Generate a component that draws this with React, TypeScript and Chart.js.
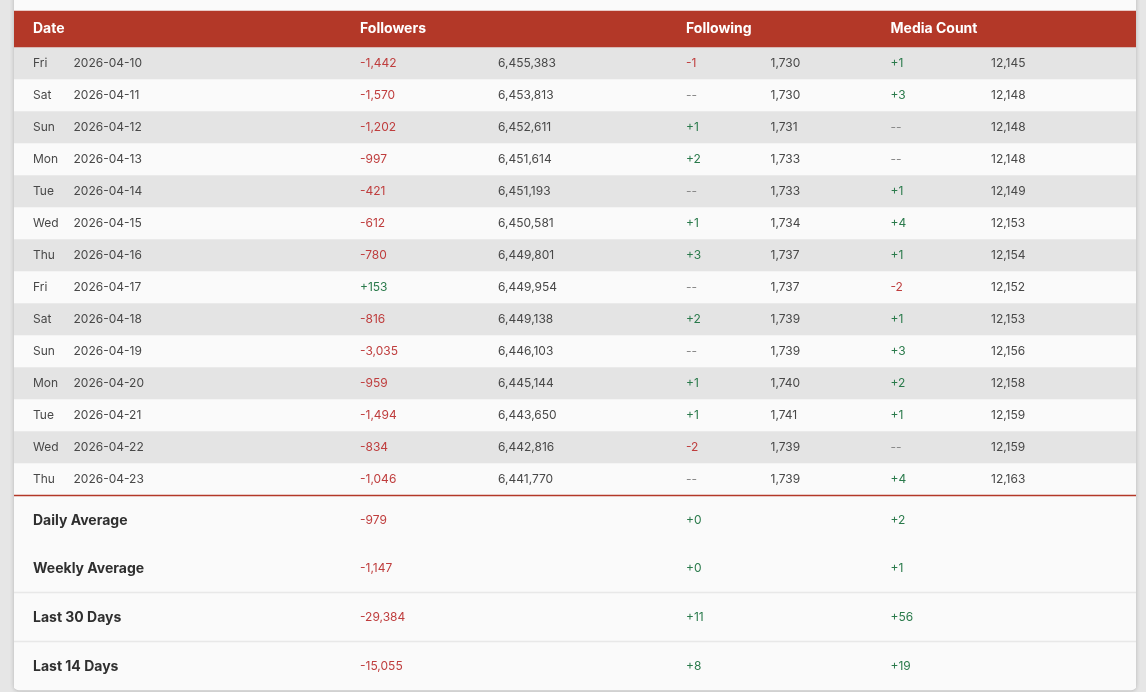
import { useEffect, useRef } from 'react';
import { Chart, registerables } from 'chart.js';

Chart.register(...registerables);

const weekdays = ['Fri', 'Sat', 'Sun', 'Mon', 'Tue', 'Wed', 'Thu', 'Fri', 'Sat', 'Sun', 'Mon', 'Tue', 'Wed', 'Thu'];
const dates = [
  '2026-04-10', '2026-04-11', '2026-04-12', '2026-04-13', '2026-04-14', '2026-04-15', '2026-04-16',
  '2026-04-17', '2026-04-18', '2026-04-19', '2026-04-20', '2026-04-21', '2026-04-22', '2026-04-23',
];
const followersChange = [-1442, -1570, -1202, -997, -421, -612, -780, 153, -816, -3035, -959, -1494, -834, -1046];
const followersTotal = [6455383, 6453813, 6452611, 6451614, 6451193, 6450581, 6449801, 6449954, 6449138, 6446103, 6445144, 6443650, 6442816, 6441770];
const followingChange = [-1, 0, 1, 2, 0, 1, 3, 0, 2, 0, 1, 1, -2, 0];
const followingTotal = [1730, 1730, 1731, 1733, 1733, 1734, 1737, 1737, 1739, 1739, 1740, 1741, 1739, 1739];
const mediaChange = [1, 3, 0, 0, 1, 4, 1, -2, 1, 3, 2, 1, 0, 4];
const mediaTotal = [12145, 12148, 12148, 12148, 12149, 12153, 12154, 12152, 12153, 12156, 12158, 12159, 12159, 12163];

const summaryLabels = ['Daily Average', 'Weekly Average', 'Last 30 Days', 'Last 14 Days'];
const summaryFollowers = [-979, -1147, -29384, -15055];
const summaryFollowing = [0, 0, 11, 8];
const summaryMedia = [2, 1, 56, 19];

const headers = ['Date', 'Followers', 'Following', 'Media Count'];

// layout, in page pixels (both value scales run 1:1 with the canvas)
const WIDTH = 1146;
const HEIGHT = 692;
const PANEL_LEFT = 14;
const PANEL_RIGHT = 1136;
const PANEL_BOTTOM = 690;
const HEADER_TOP = 11;
const HEADER_BOTTOM = 47;
const ROW_H = 32;
const RULE_Y = 495;
const SUMMARY_CENTERS = [521, 569, 618, 667];
const SUMMARY_RULES = [592, 641];
const HEADER_X = [33, 360, 686, 890.5];
const DAY_X = 33;
const DATE_X = 73.5;
const DELTA_X = [360, 686, 890.5];
const TOTAL_X = [498, 770.5, 991];

const FONT = 'Inter, "Noto Sans", sans-serif';
const RED = '#bf3d3d';
const GREEN = '#2a7a4b';
const GREY = '#8a8a8a';
const INK = '#484848';
const PANEL = '#fafafa';

const fmt = (v: number) => Math.abs(v).toLocaleString('en-US');
const signed = (v: number) => (v < 0 ? `-${fmt(v)}` : `+${fmt(v)}`);
const deltaColor = (v: number) => (v < 0 ? RED : v > 0 ? GREEN : GREY);
const rowCenter = (i: number) => HEADER_BOTTOM + ROW_H * i + 16;

function band(top: number, bottom: number, color: string, radius = 0) {
  return {
    data: [[top, bottom]],
    backgroundColor: color,
    borderRadius: radius ? { topLeft: 0, topRight: 0, bottomLeft: radius, bottomRight: radius } : 0,
    borderSkipped: false,
    grouped: false,
    barPercentage: 1,
    categoryPercentage: 1,
    xAxisID: 'x',
    yAxisID: 'y',
  };
}

const tableText = {
  id: 'tableText',
  afterDatasetsDraw(chart: Chart) {
    const { ctx, scales } = chart;
    const px = (v: number) => scales.columns.getPixelForValue(v);
    const py = (v: number) => scales.y.getPixelForValue(v);
    const put = (text: string, x: number, y: number, color: string, font: string) => {
      ctx.fillStyle = color;
      ctx.font = font;
      ctx.fillText(text, px(x), py(y));
    };
    ctx.save();
    ctx.textBaseline = 'middle';
    ctx.textAlign = 'left';

    const bodyFont = `400 12px ${FONT}`;
    const headFont = `700 14px ${FONT}`;
    const sumFont = `700 14px ${FONT}`;

    headers.forEach((h, i) => put(h, HEADER_X[i], 29, '#ffffff', headFont));

    const changes = [followersChange, followingChange, mediaChange];
    const totals = [followersTotal, followingTotal, mediaTotal];
    dates.forEach((d, r) => {
      const y = rowCenter(r);
      put(weekdays[r], DAY_X, y, INK, bodyFont);
      put(d, DATE_X, y, INK, bodyFont);
      changes.forEach((c, k) => {
        put(c[r] === 0 ? '--' : signed(c[r]), DELTA_X[k], y, deltaColor(c[r]), bodyFont);
        put(fmt(totals[k][r]), TOTAL_X[k], y, INK, bodyFont);
      });
    });

    const sums = [summaryFollowers, summaryFollowing, summaryMedia];
    summaryLabels.forEach((label, r) => {
      const y = SUMMARY_CENTERS[r];
      put(label, DAY_X, y, '#2f2f2f', sumFont);
      sums.forEach((s, k) => put(signed(s[r]), DELTA_X[k], y - 1, s[r] < 0 ? RED : GREEN, bodyFont));
    });
    ctx.restore();
  },
};

export default function App() {
  const canvasRef = useRef<HTMLCanvasElement>(null);

  useEffect(() => {
    if (!canvasRef.current) return;

    const stripes = dates.map((_, i) =>
      band(HEADER_BOTTOM + ROW_H * i, HEADER_BOTTOM + ROW_H * (i + 1), i % 2 === 0 ? '#e4e4e4' : PANEL),
    );

    // listed top layer first: Chart.js paints the first dataset last
    const datasets = [
      band(RULE_Y, RULE_Y + 1, '#b33828'),
      ...SUMMARY_RULES.map((y) => band(y, y + 1, '#e8e8e8')),
      band(HEADER_TOP, HEADER_BOTTOM, '#b33828'),
      ...stripes,
      band(0, PANEL_BOTTOM, PANEL, 5),
    ];

    const chart = new Chart(canvasRef.current, {
      type: 'bar',
      data: { labels: ['table'], datasets: datasets as any },
      options: {
        animation: false,
        responsive: false,
        events: [],
        layout: { padding: { left: PANEL_LEFT, right: WIDTH - PANEL_RIGHT, top: 0, bottom: 0 } },
        plugins: { legend: { display: false }, tooltip: { enabled: false }, title: { display: false } },
        scales: {
          x: { type: 'category', display: false, offset: true },
          columns: { type: 'linear', axis: 'x', position: 'bottom', offset: false, display: false, min: PANEL_LEFT, max: PANEL_RIGHT },
          y: { type: 'linear', display: false, min: 0, max: HEIGHT, reverse: true },
        },
      } as any,
      plugins: [tableText],
    });

    return () => chart.destroy();
  }, []);

  return (
    <div style={{ position: 'fixed', inset: 0, background: '#e6e6e6', overflow: 'hidden' }}>
      <div
        style={{
          position: 'absolute',
          left: PANEL_LEFT,
          top: -10,
          width: PANEL_RIGHT - PANEL_LEFT,
          height: PANEL_BOTTOM + 10,
          borderRadius: 5,
          boxShadow: '0 1px 4px rgba(0,0,0,0.22)',
        }}
      />
      <canvas ref={canvasRef} width={WIDTH} height={HEIGHT} style={{ display: 'block', position: 'relative' }} />
    </div>
  );
}
